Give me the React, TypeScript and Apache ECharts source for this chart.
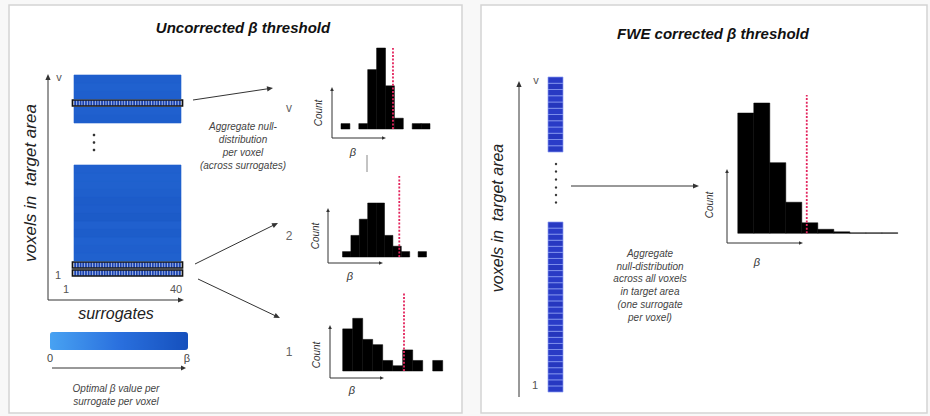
import React, { useEffect, useRef } from "react";
import * as echarts from "echarts";

// ---------- data ----------
const surrogateCount = 40;
// optimal beta per voxel row (bottom -> top), scaled 0..1
const leftTopRows = [0.78, 0.75, 0.8, 0.76, 0.73, 0.76];
const leftTopHighlight = [2];
const leftBottomRows = [0.8, 0.78, 0.74, 0.76, 0.73, 0.8, 0.75, 0.83, 0.79, 0.82, 0.77, 0.74, 0.73, 0.75];
const leftBottomHighlight = [0, 1];
const fweTopRows = [0.55, 0.5, 0.6, 0.48, 0.52, 0.58, 0.5, 0.62, 0.49, 0.55, 0.6, 0.52];
const fweBottomRows = [
  0.52, 0.58, 0.5, 0.55, 0.6, 0.48, 0.53, 0.57, 0.5, 0.62, 0.55, 0.5, 0.58, 0.52,
  0.6, 0.49, 0.55, 0.57, 0.5, 0.53, 0.6, 0.52, 0.56, 0.5, 0.58, 0.54, 0.5, 0.55,
];

// null-distribution histograms (counts per beta bin)
const histVoxelV = [1, 0, 1, 11, 15, 8, 2, 0, 1, 1];
const histVoxel2 = [1, 4, 7, 10, 10, 4, 2, 1, 0, 1];
const histVoxel1 = [8, 10, 6, 5, 2, 1, 4, 2, 0, 2];
const histFWE = [240, 260, 141, 62, 21, 8, 3, 1, 1, 1];
// thresholds in bin units
const thresholdV = 5.84;
const threshold2 = 6.76;
const threshold1 = 6.13;
const thresholdFWE = 4.31;

const FONT = '"Liberation Sans", Arial, Helvetica, sans-serif';

const txt = (text: string, x: number, y: number, font: string, fill = "#333", rotation = 0) => ({
  type: "text",
  x,
  y,
  rotation,
  z: 10,
  style: { text, font, fill, align: "center", verticalAlign: "middle", textAlign: "center", textVerticalAlign: "middle" },
});

const arrow = (x1: number, y1: number, x2: number, y2: number, h = 6, w = 2.6, color = "#333", lw = 1) => {
  const a = Math.atan2(y2 - y1, x2 - x1);
  const c = Math.cos(a);
  const s = Math.sin(a);
  const bx = x2 - h * c;
  const by = y2 - h * s;
  return [
    { type: "line", z: 10, shape: { x1, y1, x2: bx + 1 * c, y2: by + 1 * s }, style: { stroke: color, lineWidth: lw } },
    {
      type: "polygon",
      z: 10,
      shape: { points: [[x2, y2], [bx - w * s, by + w * c], [bx + w * s, by - w * c]] },
      style: { fill: color },
    },
  ];
};

const heatRender = (params: any, api: any) => {
  const r = api.value(0);
  const hl = api.value(2);
  const bl = api.coord([0, r]);
  const tr = api.coord([surrogateCount, r + 1]);
  const color = api.visual("color");
  const W = tr[0] - bl[0];
  const h = bl[1] - tr[1];
  const children: any[] = [];
  if (!hl) {
    children.push({
      type: "rect",
      shape: { x: bl[0], y: tr[1], width: W, height: h },
      style: { fill: color, stroke: color, lineWidth: 0.6 },
    });
  } else {
    const cw = W / surrogateCount;
    for (let c = 0; c < surrogateCount; c++) {
      children.push({
        type: "rect",
        shape: { x: bl[0] + c * cw, y: tr[1] + 1, width: cw, height: h - 2 },
        style: { fill: "#1a42b0", stroke: "rgba(210,225,255,0.85)", lineWidth: 0.6 },
      });
    }
    children.push({
      type: "rect",
      shape: { x: bl[0] - 1.5, y: tr[1] + 1, width: W + 3, height: h - 2 },
      style: { fill: "none", stroke: "#111", lineWidth: 1.7 },
    });
  }
  return { type: "group", children };
};

const fweRender = (params: any, api: any) => {
  const r = api.value(0);
  const bl = api.coord([0, r]);
  const tr = api.coord([1, r + 1]);
  return {
    type: "rect",
    shape: { x: bl[0], y: tr[1], width: tr[0] - bl[0], height: bl[1] - tr[1] },
    style: { fill: api.visual("color"), stroke: "#8a9cf2", lineWidth: 0.7 },
  };
};

const histRender = (params: any, api: any) => {
  const i = api.value(0);
  const c = api.value(1);
  if (!c) return { type: "group", children: [] };
  const p0 = api.coord([i, 0]);
  const p1 = api.coord([i + 1, c]);
  return {
    type: "rect",
    shape: { x: p0[0], y: p1[1], width: p1[0] - p0[0], height: p0[1] - p1[1] },
    style: { fill: "#000", stroke: "#000", lineWidth: 0.5 },
  };
};

export default function App() {
  const ref = useRef<HTMLDivElement>(null);
  useEffect(() => {
    if (!ref.current) return;
    const chart = echarts.init(ref.current, undefined, { renderer: "svg" });

    const grids: any[] = [
      { left: 74, top: 75, width: 107, height: 48 },
      { left: 74, top: 165, width: 107, height: 112 },
      { left: 341, top: 48, width: 89, height: 81 },
      { left: 342.5, top: 176, width: 100.8, height: 81, show: true, borderColor: "#e4e4e4", borderWidth: 1 },
      { left: 342.7, top: 292, width: 100, height: 79 },
      { left: 548, top: 77, width: 15, height: 75, show: true, borderColor: "#111", borderWidth: 1.3 },
      { left: 548, top: 222, width: 15, height: 170, show: true, borderColor: "#111", borderWidth: 1.3 },
      { left: 733.3, top: 95, width: 179.4, height: 138.3, show: true, borderColor: "#d8d8d8", borderWidth: 1 },
    ];
    const xr = [[0, surrogateCount], [0, surrogateCount], [0, 10], [0, 12], [0, 10], [0, 1], [0, 1], [-0.28, 10.93]];
    const yr = [[0, leftTopRows.length], [0, leftBottomRows.length], [0, 15], [0, 15], [0, 15], [0, fweTopRows.length], [0, fweBottomRows.length], [0, 276]];

    const xAxis = xr.map((r, i) => ({ type: "value", gridIndex: i, min: r[0], max: r[1], show: false }));
    const yAxis = yr.map((r, i) => ({ type: "value", gridIndex: i, min: r[0], max: r[1], show: false }));

    const rowData = (rows: number[], hl: number[]) => rows.map((v, i) => [i, v, hl.includes(i) ? 1 : 0]);
    const binData = (counts: number[]) => counts.map((c, i) => [i, c]);
    const thr = (k: number, t: number, ymax: number) => ({
      type: "line",
      xAxisIndex: k,
      yAxisIndex: k,
      data: [[t, 0], [t, ymax]],
      symbol: "none",
      silent: true,
      z: 5,
      lineStyle: { color: "#e3245d", width: 1.8, type: [2, 1.6] },
    });

    const series: any[] = [
      { type: "custom", xAxisIndex: 0, yAxisIndex: 0, renderItem: heatRender, data: rowData(leftTopRows, leftTopHighlight) },
      { type: "custom", xAxisIndex: 1, yAxisIndex: 1, renderItem: heatRender, data: rowData(leftBottomRows, leftBottomHighlight) },
      { type: "custom", xAxisIndex: 5, yAxisIndex: 5, renderItem: fweRender, data: rowData(fweTopRows, []) },
      { type: "custom", xAxisIndex: 6, yAxisIndex: 6, renderItem: fweRender, data: rowData(fweBottomRows, []) },
      { type: "custom", xAxisIndex: 2, yAxisIndex: 2, renderItem: histRender, data: binData(histVoxelV) },
      { type: "custom", xAxisIndex: 3, yAxisIndex: 3, renderItem: histRender, data: binData(histVoxel2) },
      { type: "custom", xAxisIndex: 4, yAxisIndex: 4, renderItem: histRender, data: binData(histVoxel1) },
      { type: "custom", xAxisIndex: 7, yAxisIndex: 7, renderItem: histRender, data: binData(histFWE) },
      thr(2, thresholdV, 15),
      thr(3, threshold2, 15),
      thr(4, threshold1, 15),
      thr(7, thresholdFWE, 276),
    ];

    const small = `italic 10px ${FONT}`;
    const lab = `11px ${FONT}`;
    const graphic: any[] = [
      { type: "rect", z: 0, shape: { x: 9, y: 5, width: 453, height: 408 }, style: { fill: "#fff", stroke: "#d4d4d4", lineWidth: 1.5 } },
      { type: "rect", z: 0, shape: { x: 481, y: 5, width: 446, height: 408 }, style: { fill: "#fff", stroke: "#d4d4d4", lineWidth: 1.5 } },
      txt("Uncorrected β threshold", 243, 27, `italic bold 15px ${FONT}`, "#111"),
      txt("FWE corrected β threshold", 713, 33, `italic bold 15px ${FONT}`, "#111"),
      // left heatmap axes
      ...arrow(48, 300, 48, 74),
      ...arrow(48, 300, 184, 300),
      txt("v", 59, 77, lab, "#555"),
      txt("1", 58, 275, lab, "#555"),
      txt("1", 66, 289, lab, "#555"),
      txt("40", 176, 289, lab, "#555"),
      txt("voxels in  target area", 30, 183, `italic 17px ${FONT}`, "#222", Math.PI / 2),
      txt("surrogates", 116, 313, `italic 16px ${FONT}`, "#222"),
      { type: "circle", z: 10, shape: { cx: 94, cy: 135, r: 1.3 }, style: { fill: "#333" } },
      { type: "circle", z: 10, shape: { cx: 94, cy: 142.5, r: 1.3 }, style: { fill: "#333" } },
      { type: "circle", z: 10, shape: { cx: 94, cy: 150, r: 1.3 }, style: { fill: "#333" } },
      // colorbar labels
      txt("0", 50, 358, lab, "#444"),
      txt("β", 187, 358, lab, "#444"),
      ...arrow(52, 368, 186, 368, 5, 2.4),
      txt("Optimal β value per", 116, 388, small, "#444"),
      txt("surrogate per voxel", 116, 401, small, "#444"),
      // arrows to histograms
      ...arrow(193, 100, 273, 88),
      ...arrow(195, 264, 278, 223),
      ...arrow(198, 279, 280, 318),
      txt("v", 289, 108, `12px ${FONT}`, "#666"),
      txt("2", 289, 236, `12px ${FONT}`, "#666"),
      txt("1", 289, 352, `12px ${FONT}`, "#666"),
      txt("Aggregate null-", 243, 126, small, "#444"),
      txt("distribution", 243, 139, small, "#444"),
      txt("per voxel", 243, 152, small, "#444"),
      txt("(across surrogates)", 243, 165, small, "#444"),
      { type: "line", z: 10, shape: { x1: 367, y1: 155, x2: 367, y2: 172 }, style: { stroke: "#888", lineWidth: 1 } },
      // histogram axes
      ...arrow(332, 138, 332, 87, 4, 1.8),
      ...arrow(332, 138, 386, 138, 4, 1.8),
      ...arrow(328, 263, 328, 208, 4, 1.8),
      ...arrow(328, 263, 383, 263, 4, 1.8),
      ...arrow(330, 378, 330, 325, 4, 1.8),
      ...arrow(330, 378, 384, 378, 4, 1.8),
      ...arrow(727, 243, 727, 169, 4, 1.8),
      ...arrow(727, 243, 803, 243, 4, 1.8),
      txt("Count", 318, 113, small, "#333", Math.PI / 2),
      txt("Count", 315, 236, small, "#333", Math.PI / 2),
      txt("Count", 316, 355, small, "#333", Math.PI / 2),
      txt("Count", 709, 205, small, "#333", Math.PI / 2),
      txt("β", 353, 152, `italic 11px ${FONT}`, "#333"),
      txt("β", 350, 276, `italic 11px ${FONT}`, "#333"),
      txt("β", 352, 390, `italic 11px ${FONT}`, "#333"),
      txt("β", 757, 262, `italic 11px ${FONT}`, "#333"),
      // right panel
      ...arrow(519, 397, 519, 81),
      txt("v", 536, 80, lab, "#555"),
      txt("1", 535, 385, lab, "#555"),
      txt("voxels in  target area", 497, 218, `italic 16px ${FONT}`, "#222", Math.PI / 2),
      ...[164, 171.5, 179.5, 187.5, 195, 202.5].map((cy) => ({ type: "circle", z: 10, shape: { cx: 556, cy, r: 1.2 }, style: { fill: "#333" } })),
      ...arrow(571, 186, 699, 186),
      txt("Aggregate", 650, 253, small, "#444"),
      txt("null-distribution", 650, 266, small, "#444"),
      txt("across all voxels", 650, 278, small, "#444"),
      txt("in target area", 650, 291, small, "#444"),
      txt("(one surrogate", 650, 304, small, "#444"),
      txt("per voxel)", 650, 317, small, "#444"),
    ];

    chart.setOption({
      animation: false,
      backgroundColor: "#f8f8f8",
      grid: grids,
      xAxis,
      yAxis,
      visualMap: [
        {
          type: "continuous",
          min: 0,
          max: 1,
          dimension: 1,
          seriesIndex: [0, 1],
          inRange: { color: ["#48a2f2", "#2a70de", "#1550bd"] },
          orient: "horizontal",
          left: 50,
          top: 332,
          itemWidth: 18,
          itemHeight: 138,
          calculable: false,
          padding: 0,
          show: true,
          hoverLink: false,
          textStyle: { color: "#444" },
        },
        {
          type: "continuous",
          min: 0,
          max: 1,
          dimension: 1,
          seriesIndex: [2, 3],
          inRange: { color: ["#5068ee", "#2a3cc8", "#16249a"] },
          show: false,
        },
      ],
      series,
      graphic,
    });
    return () => chart.dispose();
  }, []);
  return <div ref={ref} style={{ position: "absolute", left: 0, top: 0, width: 930, height: 416 }} />;
}
